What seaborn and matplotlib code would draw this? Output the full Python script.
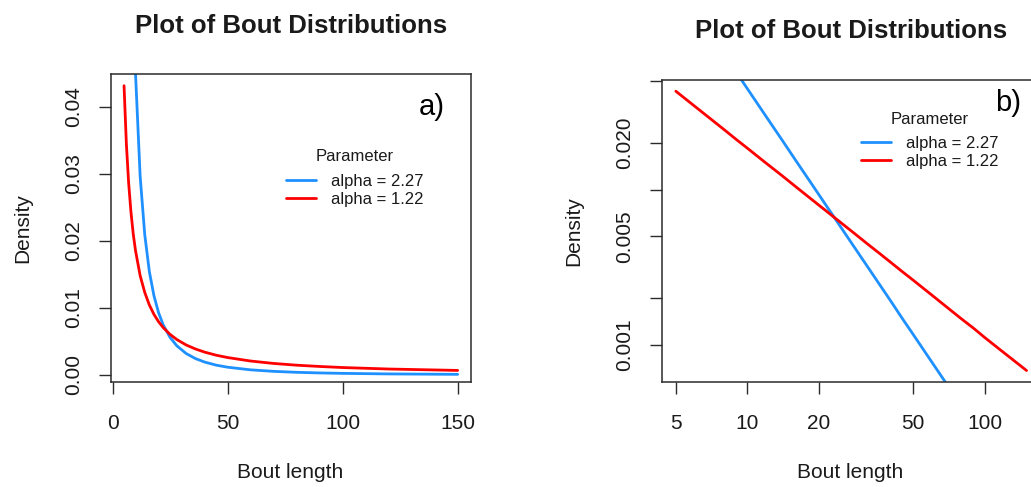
import matplotlib
matplotlib.use("Agg")
import pandas as pd
import matplotlib.pyplot as plt
import seaborn as sns
from matplotlib.lines import Line2D

# values (power-law bout densities)
bout_length = [5, 6, 7, 8, 9, 10, 12, 14, 16, 18, 20, 22, 25, 28, 32, 36, 40,
               45, 50, 60, 70, 80, 90, 100, 120, 150]
density_alpha_227 = [0.216, 0.143, 0.1007, 0.0743, 0.0569, 0.0448, 0.0296, 0.0209,
                     0.0154, 0.0118, 0.00929, 0.00748, 0.00560, 0.00433, 0.00320,
                     0.00245, 0.00193, 0.00147, 0.00116, 0.000767, 0.000541,
                     0.000399, 0.000306, 0.000241, 0.000159, 0.0000958]
density_alpha_122 = [0.0431, 0.0345, 0.0286, 0.0243, 0.0210, 0.0185, 0.0148, 0.0123,
                     0.01043, 0.00903, 0.00794, 0.00707, 0.00605, 0.00527, 0.00447,
                     0.00388, 0.00341, 0.00295, 0.00260, 0.00208, 0.00172, 0.00146,
                     0.00127, 0.00111, 0.00089, 0.00068]
series_labels = ["alpha = 2.27", "alpha = 1.22"]
series_colors = ["#1E90FF", "#FF0000"]

lin_yticks = [0.00, 0.01, 0.02, 0.03, 0.04]
lin_xticks = [0, 50, 100, 150]
log_yticks = [0.05, 0.02, 0.01, 0.005, 0.002, 0.001]
log_ylabels = ["", "0.020", "", "0.005", "", "0.001"]
log_xticks = [5, 10, 20, 50, 100]

df = pd.DataFrame({
    "bout": bout_length * 2,
    "density": density_alpha_227 + density_alpha_122,
    "param": [series_labels[0]] * len(bout_length) + [series_labels[1]] * len(bout_length),
})
palette = dict(zip(series_labels, series_colors))

sns.set_style("ticks")
plt.rcParams["font.family"] = ["Liberation Sans", "DejaVu Sans"]
TXT = "#1a1a1a"

fig = plt.figure(figsize=(10.31, 4.87), dpi=100)
W, H = 1031, 487


def px_axes(x0, y0, x1, y1):
    return fig.add_axes([x0 / W, 1 - y1 / H, (x1 - x0) / W, (y1 - y0) / H])


ax1 = px_axes(110.7, 74.3, 471, 381.7)
ax2 = px_axes(661.7, 80, 1040.6, 381.7)

for ax in (ax1, ax2):
    sns.lineplot(data=df, x="bout", y="density", hue="param", palette=palette,
                 hue_order=series_labels, estimator=None, sort=False,
                 linewidth=2.0, legend=False, ax=ax)
    for s in ax.spines.values():
        s.set_visible(True)
        s.set_color("#2b2b2b")
        s.set_linewidth(1.1)
    ax.tick_params(axis="both", direction="out", length=8.6, width=1.0,
                   color="#2b2b2b", labelsize=15, labelcolor=TXT)
    ax.tick_params(axis="x", pad=15)
    ax.tick_params(axis="y", pad=11)
    ax.set_xlabel("")
    ax.set_ylabel("")
    ax.set_title("Plot of Bout Distributions", fontsize=18.5, fontweight="bold",
                 color=TXT, pad=30)

# panel a) linear
ax1.set_xlim(-0.8, 155.8)
ax1.set_ylim(-0.001, 0.0448)
ax1.set_xticks(lin_xticks)
ax1.set_yticks(lin_yticks)
ax1.set_yticklabels([f"{v:.2f}" for v in lin_yticks], rotation=90, va="center")

# panel b) log-log
ax2.set_xscale("log")
ax2.set_yscale("log")
ax2.set_xlim(4.36, 171.9)
ax2.set_ylim(0.000576, 0.0509)
ax2.set_xticks(log_xticks)
ax2.set_xticklabels([str(v) for v in log_xticks])
ax2.set_yticks(log_yticks)
ax2.set_yticklabels(log_ylabels, rotation=90, va="center")
ax2.minorticks_off()

handles = [Line2D([], [], color=c, lw=2.0) for c in series_colors]
for ax, bx, by in ((ax1, 0.678, 0.783), (ax2, 0.708, 0.923)):
    leg = ax.legend(handles, series_labels, title="Parameter", loc="upper center",
                    bbox_to_anchor=(bx, by), frameon=False, fontsize=12,
                    title_fontsize=12, handlelength=1.8, handletextpad=0.9,
                    labelspacing=0.15, borderpad=0)
    leg._legend_box.sep = 7
    for t in leg.get_texts():
        t.set_color(TXT)
    leg.get_title().set_color(TXT)

ax1.text(0.892, 0.894, "a)", transform=ax1.transAxes, fontsize=21,
         ha="center", va="center", color="black")
ax2.text(0.914, 0.924, "b)", transform=ax2.transAxes, fontsize=21,
         ha="center", va="center", color="black")

fig.text(23 / W, 1 - 228 / H, "Density", rotation=90, fontsize=15,
         ha="center", va="center", color=TXT)
fig.text(574 / W, 1 - 231 / H, "Density", rotation=90, fontsize=15,
         ha="center", va="center", color=TXT)
fig.text(290 / W, 1 - 473 / H, "Bout length", fontsize=15,
         ha="center", va="center", color=TXT)
fig.text(850 / W, 1 - 473 / H, "Bout length", fontsize=15,
         ha="center", va="center", color=TXT)

fig.savefig("out.png", dpi=100)
